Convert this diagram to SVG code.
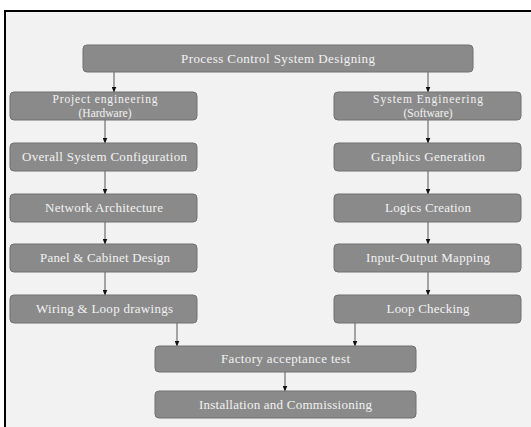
<svg xmlns="http://www.w3.org/2000/svg" width="531" height="427" viewBox="0 0 531 427">
<defs>
<style>
.box{fill:#8a8a8a;stroke:#707070;stroke-width:1}
.t{font-family:"Liberation Serif","Times New Roman",serif;font-size:13px;fill:#f2f2f2;text-anchor:middle}
.s{font-size:11.5px}
.c{stroke:#555;stroke-width:1;fill:none;marker-end:url(#ah)}
</style>
<marker id="ah" markerWidth="6" markerHeight="5" refX="5.5" refY="2.5" orient="auto" markerUnits="userSpaceOnUse">
<path d="M0,0 L6,2.5 L0,5 Z" fill="#111"/>
</marker>
</defs>
<rect x="0" y="0" width="531" height="427" fill="#ffffff"/>
<rect x="5" y="11" width="526" height="416" fill="#f2f2f2"/>
<line x1="4" y1="11" x2="531" y2="11" stroke="#000" stroke-width="2"/>
<line x1="5" y1="10" x2="5" y2="427" stroke="#000" stroke-width="2"/>
<g id="connectors">
<line class="c" x1="114" y1="72" x2="114" y2="92"/>
<line class="c" x1="428" y1="72" x2="428" y2="92"/>
<line class="c" x1="105" y1="120" x2="105" y2="143"/>
<line class="c" x1="105" y1="171" x2="105" y2="194"/>
<line class="c" x1="105" y1="222" x2="105" y2="244"/>
<line class="c" x1="105" y1="272" x2="105" y2="295"/>
<line class="c" x1="428" y1="120" x2="428" y2="143"/>
<line class="c" x1="428" y1="171" x2="428" y2="194"/>
<line class="c" x1="428" y1="222" x2="428" y2="244"/>
<line class="c" x1="428" y1="272" x2="428" y2="295"/>
<line class="c" x1="177" y1="323" x2="177" y2="346"/>
<line class="c" x1="355" y1="323" x2="355" y2="346"/>
<line class="c" x1="285" y1="372" x2="285" y2="391"/>
</g>
<g id="n-top"><rect class="box" x="83" y="45" width="390" height="27" rx="4"/><text class="t" x="278" y="63" textLength="194">Process Control System Designing</text></g>
<g id="n-proj"><rect class="box" x="10" y="92" width="187" height="28" rx="4"/><text class="t s" x="105" y="103" textLength="105">Project engineering</text><text class="t s" x="105" y="116.5">(Hardware)</text></g>
<g id="n-sys"><rect class="box" x="334" y="92" width="187" height="28" rx="4"/><text class="t s" x="428" y="103" textLength="110">System Engineering</text><text class="t s" x="428" y="116.5">(Software)</text></g>
<g id="n-osc"><rect class="box" x="10" y="143" width="187" height="28" rx="4"/><text class="t" x="104.5" y="161" textLength="165">Overall System Configuration</text></g>
<g id="n-gg"><rect class="box" x="334" y="143" width="187" height="28" rx="4"/><text class="t" x="428" y="161" textLength="114">Graphics Generation</text></g>
<g id="n-na"><rect class="box" x="10" y="194" width="187" height="28" rx="4"/><text class="t" x="104" y="212" textLength="118">Network Architecture</text></g>
<g id="n-lc"><rect class="box" x="334" y="194" width="187" height="28" rx="4"/><text class="t" x="428" y="212" textLength="86">Logics Creation</text></g>
<g id="n-pcd"><rect class="box" x="10" y="244" width="187" height="28" rx="4"/><text class="t" x="105" y="262" textLength="130">Panel &amp; Cabinet Design</text></g>
<g id="n-iom"><rect class="box" x="334" y="244" width="187" height="28" rx="4"/><text class="t" x="428" y="262" textLength="124">Input-Output Mapping</text></g>
<g id="n-wld"><rect class="box" x="10" y="295" width="187" height="28" rx="4"/><text class="t" x="104.5" y="313" textLength="137">Wiring &amp; Loop drawings</text></g>
<g id="n-lch"><rect class="box" x="334" y="295" width="187" height="28" rx="4"/><text class="t" x="428" y="313" textLength="83">Loop Checking</text></g>
<g id="n-fat"><rect class="box" x="155" y="346" width="261" height="26" rx="4"/><text class="t" x="285.5" y="363" textLength="129">Factory acceptance test</text></g>
<g id="n-ic"><rect class="box" x="155" y="391" width="261" height="27" rx="4"/><text class="t" x="285.5" y="409" textLength="173">Installation and Commissioning</text></g>
</svg>
